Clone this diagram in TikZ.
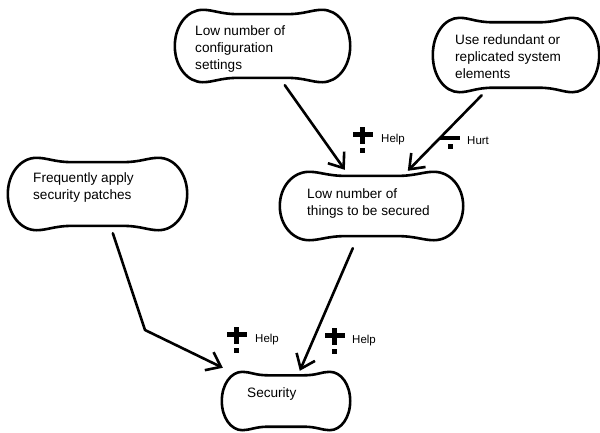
\documentclass[tikz,border=0pt]{standalone}
\usepackage{fontspec}
\setmainfont{Liberation Sans}
\usetikzlibrary{arrows.meta,calc}

% Bone-shaped outline around a named box node
\newcommand\boneoutline[1]{%
  \draw[outline] let \p1=(#1.south west), \p2=(#1.north east),
      \n1={\x2-\x1}, \n2={\y2-\y1} in
    (\x1,{\y1+0.5*\n2})
    .. controls (\x1,{\y2-0.22*\n2}) and ({\x1+0.07*\n1},\y2) .. ({\x1+0.16*\n1},\y2)
    .. controls ({\x1+0.22*\n1},\y2) and ({\x1+0.26*\n1},{\y2-0.06*\n2}) .. ({\x1+0.36*\n1},{\y2-0.06*\n2})
    -- ({\x2-0.36*\n1},{\y2-0.06*\n2})
    .. controls ({\x2-0.26*\n1},{\y2-0.06*\n2}) and ({\x2-0.22*\n1},\y2) .. ({\x2-0.16*\n1},\y2)
    .. controls ({\x2-0.07*\n1},\y2) and (\x2,{\y2-0.22*\n2}) .. (\x2,{\y1+0.5*\n2})
    .. controls (\x2,{\y1+0.22*\n2}) and ({\x2-0.07*\n1},\y1) .. ({\x2-0.16*\n1},\y1)
    .. controls ({\x2-0.22*\n1},\y1) and ({\x2-0.26*\n1},{\y1+0.06*\n2}) .. ({\x2-0.36*\n1},{\y1+0.06*\n2})
    -- ({\x1+0.36*\n1},{\y1+0.06*\n2})
    .. controls ({\x1+0.26*\n1},{\y1+0.06*\n2}) and ({\x1+0.22*\n1},\y1) .. ({\x1+0.16*\n1},\y1)
    .. controls ({\x1+0.07*\n1},\y1) and (\x1,{\y1+0.22*\n2}) .. cycle;%
}

\tikzset{
  outline/.style={line width=2.6pt, line join=round},
  bonebox/.style 2 args={rectangle, draw=none, inner sep=0pt,
    minimum width=#1pt, minimum height=#2pt},
  txt/.style={inner sep=0pt, align=left, anchor=north west,
    font=\fontsize{13.6}{17}\selectfont},
  lbl/.style={inner sep=0pt, anchor=west, font=\fontsize{11.5}{13}\selectfont},
  link/.style={line width=2.6pt, line cap=round, line join=round,
    -{Straight Barb[length=13pt,width=20pt,line width=2.6pt]}},
  plusmark/.pic={
    \fill (-2.5,0) rectangle (2.5,17);
    \fill (-10,5) rectangle (10,10);
    \fill (-2.5,21) rectangle (2.5,26);
  },
  minusmark/.pic={
    \fill (-10,0) rectangle (10,4);
    \fill (-2.5,8) rectangle (2.5,13);
  },
}

\begin{document}
\begin{tikzpicture}[x=1pt,y=-1pt]
  \fill[white] (0,0) rectangle (600,432);
  \useasboundingbox (0,0) rectangle (600,432);

  % boxes
  \node[bonebox={175}{72}] (n1) at (262.5,46) {};
  \node[bonebox={166}{74}] (n2) at (516,55) {};
  \node[bonebox={179}{72}] (n3) at (97.5,194) {};
  \node[bonebox={183}{68}] (n4) at (371.5,206) {};
  \node[bonebox={128}{58}] (n5) at (286,401) {};
  \boneoutline{n1}
  \boneoutline{n2}
  \boneoutline{n3}
  \boneoutline{n4}
  \boneoutline{n5}

  % box texts
  \node[txt] (n1t) at (195,25) {Low number of\\configuration\\settings};
  \node[txt] (n2t) at (455,34) {Use redundant or\\replicated system\\elements};
  \node[txt] (n3t) at (33,172) {Frequently apply\\security patches};
  \node[txt] (n4t) at (307,188) {Low number of\\things to be secured};
  \node[txt] (n5t) at (247,387) {Security};

  % contributions
  \draw[link] ($(n1.south west)+(110,3)$) -- ($(n4.north west)+(65,-2)$);
  \draw[link] ($(n2.south west)+(49,3)$) -- ($(n4.north west)+(128,-1)$);
  \coordinate (bend) at (145,330);
  \draw[link] ($(n3.south west)+(105,3)$) -- (bend) -- ($(n5.north west)+(1,-4)$);
  \draw[link] ($(n4.south west)+(73,8)$) -- ($(n5.north west)+(78,-1)$);

  % contribution labels
  \pic at (362.5,127) {plusmark};
  \node[lbl] (h1) at (381,140) {Help};
  \pic at (450,136) {minusmark};
  \node[lbl] (h2) at (467,141) {Hurt};
  \pic at (236.5,327) {plusmark};
  \node[lbl] (h3) at (255,340) {Help};
  \pic at (334.5,328) {plusmark};
  \node[lbl] (h4) at (352,341) {Help};
\end{tikzpicture}
\end{document}
